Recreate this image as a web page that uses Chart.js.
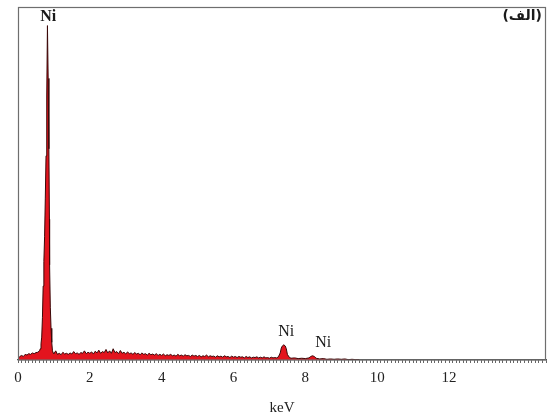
<!DOCTYPE html>
<html>
<head>
<meta charset="utf-8">
<script src="https://cdn.jsdelivr.net/npm/chart.js@4"></script>
<style>
  html, body { margin: 0; padding: 0; background: #fff; }
  #wrap { width: 547px; height: 414px; }
</style>
</head>
<body>
<div id="wrap"><canvas id="edsChart"></canvas></div>
<script>
const energias = [
  0.00, 0.05, 0.10, 0.15, 0.20, 0.25, 0.30, 0.35, 0.40, 0.45, 0.50, 0.55, 0.60,
  0.62, 0.64, 0.66, 0.68, 0.70, 0.72, 0.74, 0.76, 0.78, 0.80, 0.82, 0.84, 0.86, 0.875,
  0.88, 0.90, 0.92, 0.94, 0.96, 0.98,
  1.00, 1.05, 1.10, 1.15, 1.20, 1.25, 1.30, 1.35, 1.40, 1.45,
  1.50, 1.55, 1.60, 1.65, 1.70, 1.75, 1.80, 1.85, 1.90, 1.95,
  2.00, 2.05, 2.10, 2.15, 2.20, 2.25, 2.30, 2.35, 2.40, 2.45,
  2.50, 2.55, 2.60, 2.65, 2.70, 2.75, 2.80, 2.85, 2.90, 2.95,
  3.00, 3.05, 3.10, 3.15, 3.20, 3.25, 3.30, 3.35, 3.40, 3.45,
  3.50, 3.55, 3.60, 3.65, 3.70, 3.75, 3.80, 3.85, 3.90, 3.95,
  4.00, 4.05, 4.10, 4.15, 4.20, 4.25, 4.30, 4.35, 4.40, 4.45,
  4.50, 4.55, 4.60, 4.65, 4.70, 4.75, 4.80, 4.85, 4.90, 4.95,
  5.00, 5.05, 5.10, 5.15, 5.20, 5.25, 5.30, 5.35, 5.40, 5.45,
  5.50, 5.55, 5.60, 5.65, 5.70, 5.75, 5.80, 5.85, 5.90, 5.95,
  6.00, 6.05, 6.10, 6.15, 6.20, 6.25, 6.30, 6.35, 6.40, 6.45,
  6.50, 6.55, 6.60, 6.65, 6.70, 6.75, 6.80, 6.85, 6.90, 6.95,
  7.00, 7.05, 7.10, 7.15, 7.20,
  7.25, 7.30, 7.33, 7.36, 7.40, 7.44, 7.47, 7.50, 7.55, 7.60,
  7.70, 7.80, 7.90, 8.00, 8.10, 8.15, 8.20, 8.25, 8.30, 8.40,
  8.50, 8.60, 8.70, 8.80, 8.90, 9.00, 9.10, 9.20, 9.30, 9.40, 9.50
];
const contagens = [
  0.4, 1.0, 1.3, 1.0, 1.6, 1.4, 1.8, 1.6, 2.0, 1.8, 2.1, 2.2, 2.6,
  3.2, 4.6, 6.5, 12, 21, 28, 35, 46, 58, 75, 95, 80, 60, 40,
  27, 15, 9, 5, 2.6, 2.0,
  1.8, 2.6, 1.6, 1.9, 1.5, 2.2, 1.7, 1.9, 1.6, 2.0,
  1.7, 2.4, 1.8, 2.0, 1.6, 2.1, 1.9, 2.6, 1.8, 2.2,
  1.9, 2.3, 1.7, 2.5, 2.0, 2.8, 1.9, 2.4, 2.1, 3.0,
  2.0, 2.6, 1.9, 3.2, 2.1, 2.4, 1.8, 2.7, 1.9, 2.2,
  1.7, 2.3, 1.8, 2.0, 1.6, 2.1, 1.7, 1.9, 1.5, 2.0,
  1.6, 1.8, 1.4, 1.9, 1.5, 1.7, 1.4, 1.8, 1.3, 1.6,
  1.3, 1.7, 1.2, 1.5, 1.3, 1.6, 1.2, 1.4, 1.1, 1.6,
  1.2, 1.4, 1.1, 1.5, 1.2, 1.3, 1.0, 1.4, 1.1, 1.3,
  1.0, 1.3, 0.9, 1.2, 1.0, 1.4, 0.9, 1.2, 1.0, 1.1,
  0.8, 1.2, 0.9, 1.1, 0.8, 1.2, 0.9, 1.0, 0.7, 1.1,
  0.8, 1.0, 0.7, 1.0, 0.8, 0.9, 0.6, 1.0, 0.7, 0.9,
  0.6, 0.8, 0.7, 0.9, 0.6, 0.8, 0.6, 0.9, 0.6, 0.7,
  0.5, 0.8, 0.6, 0.7, 0.6,
  0.9, 2.0, 3.4, 4.0, 4.3, 4.0, 3.2, 1.6, 0.8, 0.5,
  0.6, 0.4, 0.5, 0.4, 0.6, 1.0, 1.2, 1.0, 0.5, 0.3,
  0.4, 0.2, 0.3, 0.2, 0.3, 0.2, 0.3, 0.1, 0.2, 0.1, 0.1
];
const rotulosPicos = [
  { texto: 'Ni', energia: 0.84, y: 17, negrito: true },
  { texto: 'Ni', energia: 7.47, y: 332, negrito: false },
  { texto: 'Ni', energia: 8.5, y: 343, negrito: false }
];
const tituloPainel = '(الف)';
const tituloEixoX = 'keV';

const fonteSerif = '"Liberation Serif", "DejaVu Serif", serif';

const moldura = {
  id: 'moldura',
  afterDraw(chart) {
    const { ctx, chartArea, scales } = chart;
    ctx.save();
    ctx.strokeStyle = '#6e6e6e';
    ctx.lineWidth = 1.2;
    ctx.strokeRect(chartArea.left + 0.5, chartArea.top - 0.5, chartArea.right - chartArea.left - 1, chartArea.bottom - chartArea.top + 0.5);
    ctx.fillStyle = '#1a1a1a';
    ctx.textAlign = 'center';
    ctx.textBaseline = 'middle';
    rotulosPicos.forEach(r => {
      ctx.font = (r.negrito ? 'bold ' : '') + '16px ' + fonteSerif;
      ctx.fillText(r.texto, scales.x.getPixelForValue(r.energia), r.y);
    });
    ctx.font = 'bold 14px "DejaVu Sans", sans-serif';
    ctx.textAlign = 'right';
    ctx.fillText(tituloPainel, chartArea.right - 4, 16);
    ctx.restore();
  }
};

const ctx = document.getElementById('edsChart').getContext('2d');
new Chart(ctx, {
  type: 'line',
  data: {
    datasets: [{
      data: energias.map((e, i) => ({ x: e, y: contagens[i] })),
      borderColor: '#3a0808',
      borderWidth: 1,
      backgroundColor: '#e3141e',
      fill: 'origin',
      pointRadius: 0,
      tension: 0
    }]
  },
  options: {
    responsive: true,
    maintainAspectRatio: false,
    animation: false,
    layout: { padding: { left: 18, top: 8, right: 1, bottom: 0 } },
    plugins: { legend: { display: false }, tooltip: { enabled: false } },
    scales: {
      x: {
        type: 'linear',
        min: 0,
        max: 14.7,
        afterFit(scale) {
          scale.height = 54;
          scale.paddingLeft = 0;
          scale.paddingRight = 0;
        },
        border: { display: true, color: '#555', width: 1.2 },
        grid: { drawOnChartArea: false, tickLength: 3, color: '#666' },
        ticks: {
          stepSize: 0.1,
          autoSkip: false,
          maxRotation: 0,
          padding: 6,
          color: '#222',
          font: { family: fonteSerif, size: 15 },
          callback(value) {
            const v = Math.round(value * 10) / 10;
            if (Number.isInteger(v) && v % 2 === 0 && v <= 12) return String(v);
            return '';
          }
        },
        title: {
          display: true,
          text: tituloEixoX,
          color: '#222',
          font: { family: fonteSerif, size: 15 },
          padding: { top: 0, bottom: -3 }
        }
      },
      y: {
        display: false,
        min: 0,
        max: 100
      }
    }
  },
  plugins: [moldura]
});
</script>
</body>
</html>
